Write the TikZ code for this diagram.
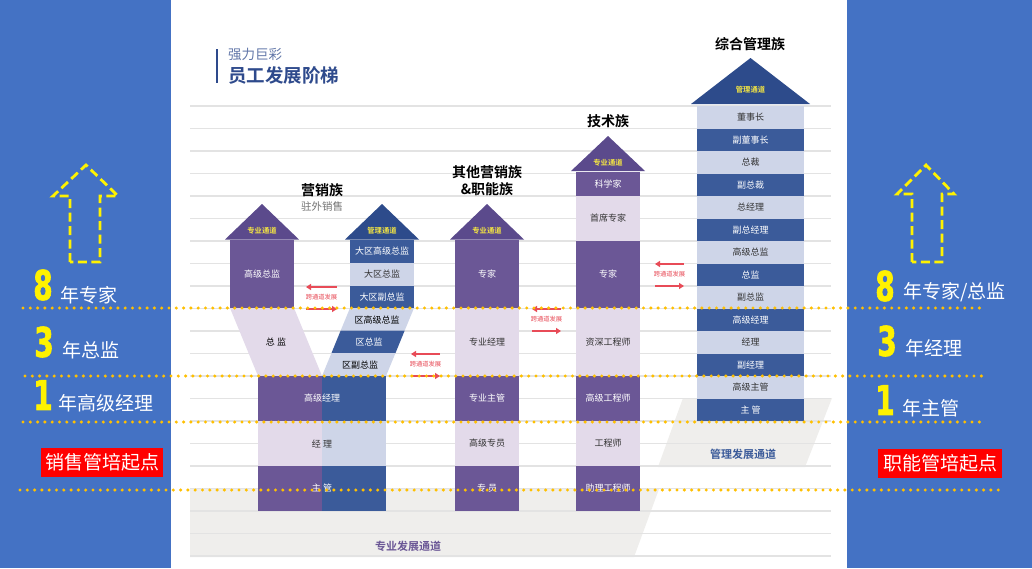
\documentclass[tikz,border=0pt]{standalone}
\usepackage{fontspec}
\setmainfont{Noto Sans CJK SC}[BoldFont={Noto Sans CJK SC Bold}]
\newfontfamily\numfont{DejaVu Sans}[FakeStretch=0.68, FakeBold=1.5]
\usetikzlibrary{arrows.meta}
\definecolor{panelblue}{HTML}{4472C4}
\definecolor{dpurp}{HTML}{6B5796}
\definecolor{hpurp}{HTML}{5B4A8C}
\definecolor{lpurp}{HTML}{E3DAEA}
\definecolor{dblue}{HTML}{3B5B9A}
\definecolor{hblue}{HTML}{2D4B8B}
\definecolor{lblue}{HTML}{CED5E8}
\definecolor{bandgray}{HTML}{EFEEEC}
\definecolor{rulegray}{HTML}{E3E3E3}
\definecolor{dotgold}{HTML}{FFC000}
\definecolor{xred}{HTML}{E84B57}
\definecolor{tagyellow}{HTML}{F5E642}
\definecolor{titleblue}{HTML}{2E4A8C}

\begin{document}
\begin{tikzpicture}
  [x=1pt, y=-1pt,
    every node/.style={inner sep=0pt, outer sep=0pt},
    cell/.style={anchor=north, minimum width=64pt, font=\fontsize{9}{9}\selectfont},
    dkp/.style={cell, fill=dpurp, text=white},
    ltp/.style={cell, fill=lpurp, text=black!80},
    dkb/.style={cell, fill=dblue, text=white},
    ltb/.style={cell, fill=lblue, text=black!80},
    mg/.style={minimum width=107pt, minimum height=22.5pt},
    tag/.style={font=\bfseries\fontsize{7.3}{7.3}\selectfont, text=tagyellow},
    family/.style={font=\bfseries\fontsize{14}{17}\selectfont},
    xlabel/.style={font=\fontsize{6.3}{6.3}\selectfont, text=xred},
    xarrow/.style={draw=xred, line width=2.3pt, -{Triangle[length=5pt, width=6pt]}},
    dotline/.style={draw=dotgold, line width=3.4pt, line cap=round, dash pattern=on 0pt off 7.3pt},
    hollow/.style={draw=yellow, line width=2.8pt, dash pattern=on 9pt off 4.5pt},
    big/.style={font=\numfont\bfseries\fontsize{41}{41}\selectfont, text=yellow},
    yr/.style={font=\fontsize{19}{19}\selectfont, text=white, anchor=west},
    startbox/.style={fill=red, text=white, font=\fontsize{19}{19}\selectfont, minimum height=29pt},
  ]

\useasboundingbox (0,0) rectangle (1032,568);
\fill[white] (0,0) rectangle (1032,568);
\fill[panelblue] (0,0) rectangle (171,568);
\fill[panelblue] (847,0) rectangle (1032,568);

\fill[bandgray] (190,489) -- (659,489) -- (634,557) -- (190,557) -- cycle;
\fill[bandgray] (683,398) -- (832,398) -- (805,467) -- (658,467) -- cycle;
\foreach \k in {0,...,20}
  \draw[rulegray, line width=1.2pt] (190,{106+22.5*\k}) -- (831,{106+22.5*\k});

\draw[titleblue, line width=2.2pt] (217,49) -- (217,83);
\node[anchor=west, font=\fontsize{13.5}{13.5}\selectfont, text=titleblue!75] (brand) at (228,54) {强力巨彩};
\node[anchor=west, font=\bfseries\fontsize{18.5}{18.5}\selectfont, text=titleblue] (title) at (228,75) {员工发展阶梯};

\node[family] (yx) at (322,190) {营销族};
\node[font=\fontsize{10.5}{10.5}\selectfont, text=black!55] (zw) at (322,207) {驻外销售};
\node[family, align=center] (qt) at (487,180.5) {其他营销族\\\&职能族};
\node[family] (js) at (608,121) {技术族};
\node[family] (zh) at (750,44) {综合管理族};

\fill[hpurp] (225,239.5) -- (262,204) -- (299,239.5) -- cycle;
\fill[hblue] (345,239.5) -- (382,204) -- (419,239.5) -- cycle;
\fill[hpurp] (450,239.5) -- (487,204) -- (524,239.5) -- cycle;
\fill[hpurp] (571,171) -- (608,136) -- (645,171) -- cycle;
\fill[hblue] (691,104) -- (750.5,58) -- (810,104) -- cycle;
\node[tag] at (262,231) {专业通道};
\node[tag] at (382,231) {管理通道};
\node[tag] at (487,231) {专业通道};
\node[tag] at (608,163) {专业通道};
\node[tag] at (750.5,90) {管理通道};

\node[dkp, minimum height=68pt] (yl1) at (262,240) {高级总监};
\fill[lpurp] (230,308) -- (294,308) -- (322,376) -- (258,376) -- cycle;
\node[font=\fontsize{9}{9}\selectfont] (yl2) at (276,342) {总 监};

\node[dkb, minimum height=23pt] (yr1) at (382,240) {大区高级总监};
\node[ltb, minimum height=22.5pt] (yr2) at (382,263) {大区总监};
\node[dkb, minimum height=22.5pt] (yr3) at (382,285.5) {大区副总监};
\fill[lblue] (350,308) -- (414,308) -- (404.7,330.5) -- (340.7,330.5) -- cycle;
\fill[dblue] (340.7,330.5) -- (404.7,330.5) -- (395.5,353) -- (331.5,353) -- cycle;
\fill[lblue] (331.5,353) -- (395.5,353) -- (386,376) -- (322,376) -- cycle;
\node[font=\fontsize{9}{9}\selectfont] (yr4) at (377,320) {区高级总监};
\node[font=\fontsize{9}{9}\selectfont, text=white] (yr5) at (369,342) {区总监};
\node[font=\fontsize{9}{9}\selectfont] (yr6) at (360,365) {区副总监};

\node[dkp, minimum height=45pt] (ym1) at (290,376) {};
\node[dkb, minimum height=45pt] (yn1) at (354,376) {};
\node[ltp, minimum height=45pt] (ym2) at (290,421) {};
\node[ltb, minimum height=45pt] (yn2) at (354,421) {};
\node[dkp, minimum height=45pt] (ym3) at (290,466) {};
\node[dkb, minimum height=45pt] (yn3) at (354,466) {};
\node[font=\fontsize{9}{9}\selectfont, text=white] at (ym1.east) {高级经理};
\node[font=\fontsize{9}{9}\selectfont, text=black!80] at (ym2.east) {经 理};
\node[font=\fontsize{9}{9}\selectfont, text=white] at (ym3.east) {主 管};

\node[dkp, minimum height=68pt] (qt1) at (487,240) {专家};
\node[ltp, minimum height=68pt] (qt2) at (487,308) {专业经理};
\node[dkp, minimum height=45pt] (qt3) at (487,376) {专业主管};
\node[ltp, minimum height=45pt] (qt4) at (487,421) {高级专员};
\node[dkp, minimum height=45pt] (qt5) at (487,466) {专 员};

\node[dkp, minimum height=24pt] (js1) at (608,172) {科学家};
\node[ltp, minimum height=45pt] (js2) at (608,196) {首席专家};
\node[dkp, minimum height=67pt] (js3) at (608,241) {专家};
\node[ltp, minimum height=68pt] (js4) at (608,308) {资深工程师};
\node[dkp, minimum height=45pt] (js5) at (608,376) {高级工程师};
\node[ltp, minimum height=45pt] (js6) at (608,421) {工程师};
\node[dkp, minimum height=45pt] (js7) at (608,466) {助理工程师};

\node[ltb, mg] (zh1) at (750.5,106) {董事长};
\node[dkb, mg] (zh2) at (750.5,128.5) {副董事长};
\node[ltb, mg] (zh3) at (750.5,151) {总裁};
\node[dkb, mg] (zh4) at (750.5,173.5) {副总裁};
\node[ltb, mg] (zh5) at (750.5,196) {总经理};
\node[dkb, mg] (zh6) at (750.5,218.5) {副总经理};
\node[ltb, mg] (zh7) at (750.5,241) {高级总监};
\node[dkb, mg] (zh8) at (750.5,263.5) {总监};
\node[ltb, mg] (zh9) at (750.5,286) {副总监};
\node[dkb, mg] (zh10) at (750.5,308.5) {高级经理};
\node[ltb, mg] (zh11) at (750.5,331) {经理};
\node[dkb, mg] (zh12) at (750.5,353.5) {副经理};
\node[ltb, mg] (zh13) at (750.5,376) {高级主管};
\node[dkb, mg] (zh14) at (750.5,398.5) {主 管};

\node[font=\bfseries\fontsize{11}{11}\selectfont, text=dpurp] (zy) at (408,546) {专业发展通道};
\node[font=\bfseries\fontsize{11}{11}\selectfont, text=dblue] (gl) at (743,454) {管理发展通道};

\foreach \n/\xa/\xb/\ya in {1/306/337/287, 2/411/440/354, 3/532/561/309, 4/655/684/264}{
  \coordinate (xw\n) at (\xa,\ya);
  \coordinate (xe\n) at (\xb,\ya);
  \coordinate (yw\n) at (\xa,\ya+22);
  \coordinate (ye\n) at (\xb,\ya+22);
  \draw[xarrow] (xe\n) -- (xw\n);
  \draw[xarrow] (yw\n) -- (ye\n);
  \node[xlabel] (xt\n) at ({(\xa+\xb)/2},\ya+10) {跨通道发展};
}

\draw[hollow] (70,262) -- (70,196) -- (53,196) -- (86,165) -- (118,196) -- (100,196) -- (100,262) -- cycle;
\draw[hollow] (912,262) -- (912,194) -- (897,194) -- (926,165) -- (954,194) -- (942,194) -- (942,262) -- cycle;

\node[big] (l8) at (43,285) {8};
\node[yr] (l8t) at (60,295) {年专家};
\node[big] (l3) at (44,342) {3};
\node[yr] (l3t) at (62,350) {年总监};
\node[big] (l1) at (43,395) {1};
\node[yr] (l1t) at (58,403) {年高级经理};
\node[startbox, minimum width=122pt] (sstart) at (102,462.5) {销售管培起点};

\node[big] (r8) at (885,286) {8};
\node[yr] (r8t) at (903,292) {年专家/总监};
\node[big] (r3) at (887,341) {3};
\node[yr] (r3t) at (905,348) {年经理};
\node[big] (r1) at (885,400) {1};
\node[yr] (r1t) at (902,408) {年主管};
\node[startbox, minimum width=124pt] (fstart) at (940,463) {职能管培起点};

\draw[dotline] (23,308) -- (985,308);
\draw[dotline] (25,376) -- (985,376);
\draw[dotline] (23,422) -- (985,422);
\draw[dotline] (20,490) -- (1005,490);
\end{tikzpicture}
\end{document}
